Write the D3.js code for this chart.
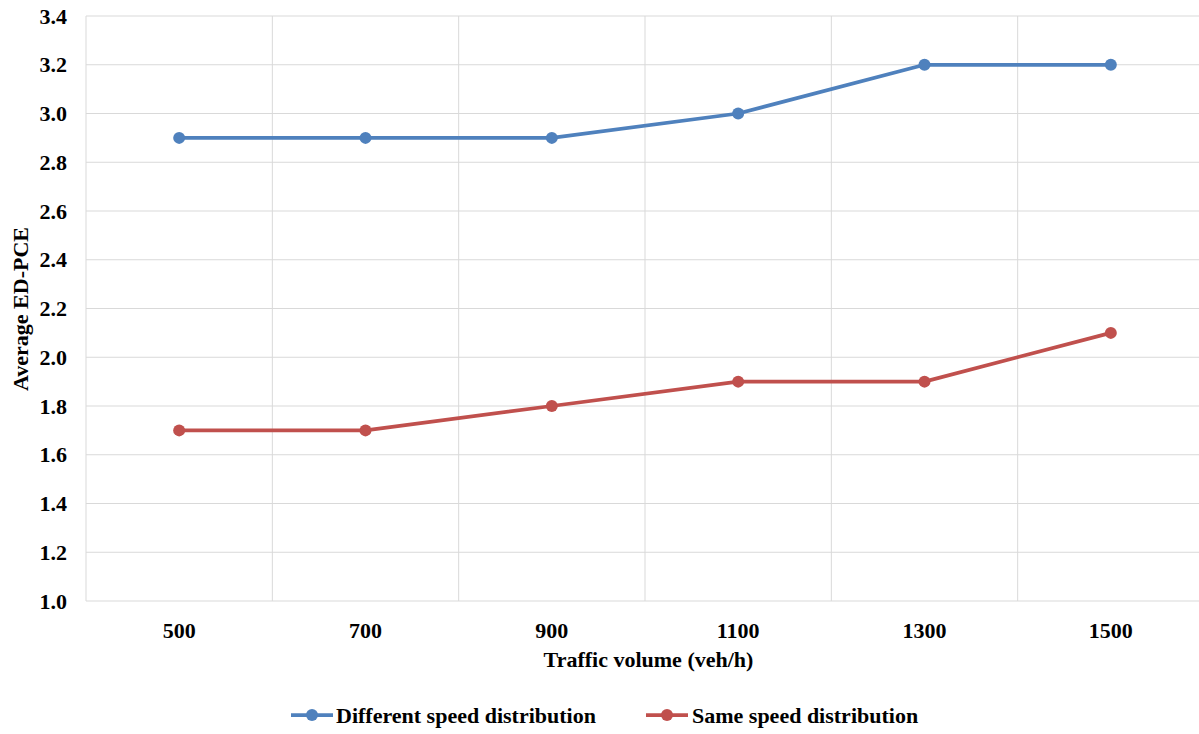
<!DOCTYPE html>
<html><head><meta charset="utf-8">
<script src="https://cdn.jsdelivr.net/npm/d3@7"></script>
<style>
body{margin:0;background:#fff;}
</style></head>
<body><svg id="chart" width="1199" height="734"></svg>
<script>
const categories = ["500","700","900","1100","1300","1500"];
const differentSpeed = [2.9, 2.9, 2.9, 3.0, 3.2, 3.2];
const sameSpeed = [1.7, 1.7, 1.8, 1.9, 1.9, 2.1];
const yTicks = [1.0,1.2,1.4,1.6,1.8,2.0,2.2,2.4,2.6,2.8,3.0,3.2,3.4];
const seriesNames = ["Different speed distribution","Same speed distribution"];
const colors = ["#4f81bd","#c0504d"];

(function(){
const fs = 22;
const svg = d3.select("#chart")
  .attr("font-family", "'Liberation Serif', 'Times New Roman', serif")
  .attr("font-weight", "bold");
const pLeft = 86, pRight = 1204, pTop = 16, pBottom = 601;
const x = d3.scaleBand().domain(categories).range([pLeft, pRight]);
const y = d3.scaleLinear().domain([1.0, 3.4]).range([pBottom, pTop]);

svg.append("g").selectAll("line").data(yTicks).join("line")
  .attr("x1", pLeft).attr("x2", pRight)
  .attr("y1", d => y(d)).attr("y2", d => y(d))
  .attr("stroke", "#d9d9d9").attr("stroke-width", 1);
const bounds = categories.map(c => x(c)).concat([x(categories[categories.length-1]) + x.bandwidth()]);
svg.append("g").selectAll("line").data(bounds).join("line")
  .attr("x1", d => d).attr("x2", d => d)
  .attr("y1", pTop).attr("y2", pBottom)
  .attr("stroke", "#d9d9d9").attr("stroke-width", 1);

svg.append("g").selectAll("text").data(yTicks).join("text")
  .attr("x", 67).attr("y", d => y(d)).attr("dy", "0.35em")
  .attr("text-anchor", "end").attr("font-size", fs)
  .text(d => d.toFixed(1));
svg.append("g").selectAll("text").data(categories).join("text")
  .attr("x", d => x(d) + x.bandwidth()/2).attr("y", 638)
  .attr("text-anchor", "middle").attr("font-size", fs)
  .text(d => d);

svg.append("text").attr("x", (pLeft + 1199)/2 + 6).attr("y", 667)
  .attr("text-anchor", "middle").attr("font-size", fs).text("Traffic volume (veh/h)");
svg.append("text").attr("transform", "translate(28,309) rotate(-90)")
  .attr("text-anchor", "middle").attr("font-size", fs).text("Average ED-PCE");

const series = [differentSpeed, sameSpeed];
const line = d3.line().x((d,i) => x(categories[i]) + x.bandwidth()/2).y(d => y(d));
series.forEach((s, k) => {
  svg.append("path").datum(s).attr("d", line)
    .attr("fill", "none").attr("stroke", colors[k]).attr("stroke-width", 3.75)
    .attr("stroke-linejoin", "round").attr("stroke-linecap", "round");
  svg.append("g").selectAll("circle").data(s).join("circle")
    .attr("cx", (d,i) => x(categories[i]) + x.bandwidth()/2).attr("cy", d => y(d))
    .attr("r", 6).attr("fill", colors[k]);
});

const legendItems = [{x0: 291, tx: 336}, {x0: 646, tx: 692}];
legendItems.forEach((L, k) => {
  const g = svg.append("g");
  g.append("line").attr("x1", L.x0).attr("x2", L.x0 + 42).attr("y1", 715).attr("y2", 715)
    .attr("stroke", colors[k]).attr("stroke-width", 3.75);
  g.append("circle").attr("cx", L.x0 + 21).attr("cy", 715).attr("r", 6).attr("fill", colors[k]);
  g.append("text").attr("x", L.tx).attr("y", 715).attr("dy", "0.35em")
    .attr("font-size", fs).text(seriesNames[k]);
});
})();
</script></body></html>
